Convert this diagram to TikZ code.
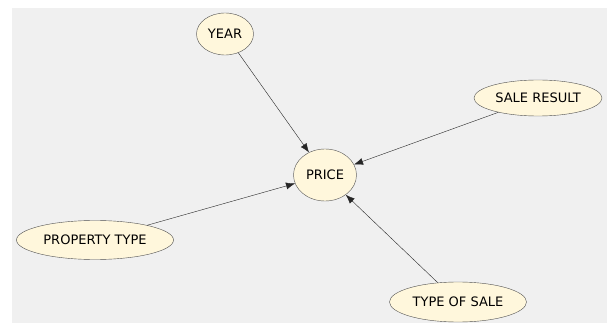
\documentclass[tikz,border=0pt]{standalone}
\usepackage{fontspec}
\setmainfont{DejaVu Sans}
\usetikzlibrary{shapes, arrows.meta, positioning}
\definecolor{panelgray}{HTML}{F0F0F0}
\definecolor{nodecream}{HTML}{FFF7DC}
\definecolor{nodeline}{HTML}{505050}
\tikzset{
    var/.style={ellipse, draw=nodeline, fill=nodecream, align=center, inner sep=0pt, font=\fontsize{13}{15}\selectfont},
    arrow/.style={draw=black!85, -{Latex[length=9pt, width=7pt]}}
}

\begin{document}
\begin{tikzpicture}[x=1pt, y=-1pt]
            \useasboundingbox (0,0) rectangle (607,323);
            \fill[panelgray] (12,8) rectangle (607,323);

            \node[var, minimum width=57pt, minimum height=42pt] (year) at (225,34) {YEAR};
            \node[var, minimum width=63pt, minimum height=52pt] (price) at (325,175) {PRICE};
            \node[var, minimum width=128pt, minimum height=36pt] (saleresult) at (538,98) {SALE RESULT};
            \node[var, minimum width=157pt, minimum height=39pt] (propertytype) at (95,240) {PROPERTY TYPE};
            \node[var, minimum width=137pt, minimum height=40pt] (typeofsale) at (458,302) {TYPE OF SALE};

            \path[arrow] (year) -- (price);
            \path[arrow] (saleresult) -- (price);
            \path[arrow] (propertytype) -- (price);
            \path[arrow] (typeofsale) -- (price);
        \end{tikzpicture}
\end{document}
